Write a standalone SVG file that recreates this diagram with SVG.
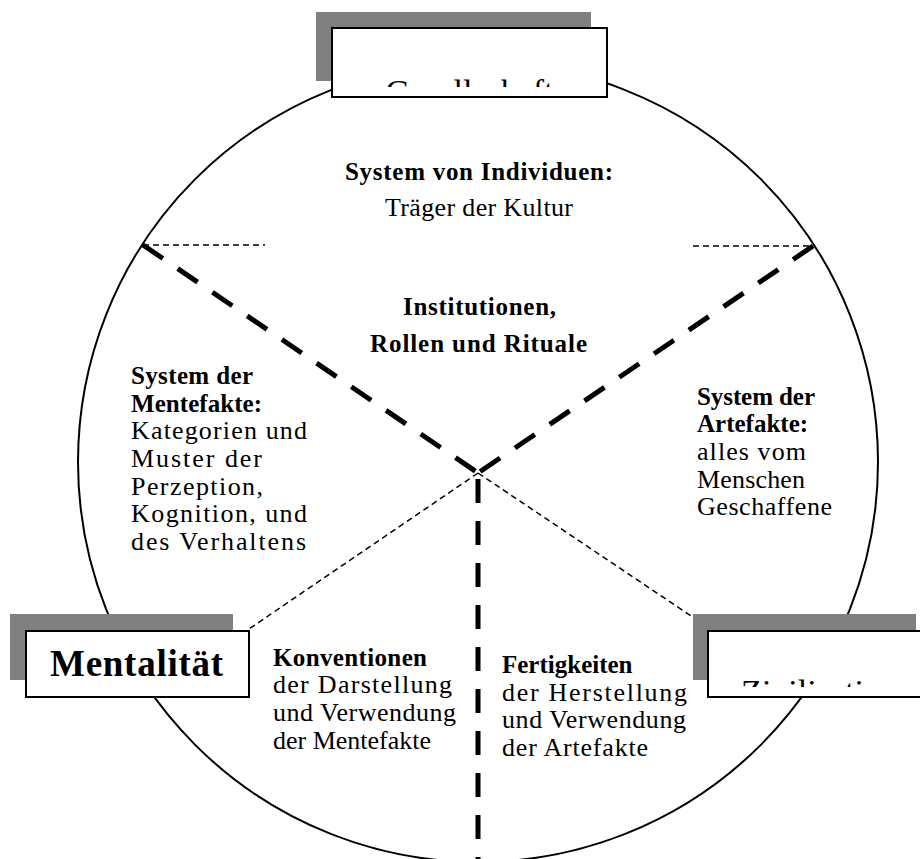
<svg xmlns="http://www.w3.org/2000/svg" width="920" height="859" viewBox="0 0 920 859">
  <style>
    .ring { fill: none; stroke: #000; stroke-width: 2; }
    .thick { stroke: #000; stroke-width: 5; stroke-dasharray: 24 18; fill: none; }
    .thin { stroke: #000; stroke-width: 1.5; stroke-dasharray: 6 4; fill: none; }
    .shadow { fill: #808080; }
    .frame { fill: #fff; stroke: #000; stroke-width: 2; }
    .t { font-family: "Liberation Serif", "Times New Roman", serif; font-size: 26px; fill: #000; }
    .b { font-weight: bold; font-size: 25px; }
    .c { text-anchor: middle; }
    .big { font-family: "Liberation Serif", "Times New Roman", serif; font-size: 34px; fill: #000; text-anchor: middle; }
  </style>
  <defs>
    <clipPath id="clipTop"><rect x="333" y="29" width="273" height="58"/></clipPath>
    <clipPath id="clipRight"><rect x="709" y="632" width="220" height="55"/></clipPath>
  </defs>
  <rect width="920" height="859" fill="#fff"/>

  <!-- outer circle -->
  <circle class="ring" cx="478" cy="462" r="400"/>

  <!-- connectors -->
  <g id="connectors">
    <line class="thin" x1="143" y1="245" x2="265" y2="245"/>
    <line class="thin" x1="693" y1="246" x2="813" y2="246"/>
    <line class="thick" x1="143" y1="245" x2="478" y2="473"/>
    <line class="thick" x1="813" y1="246" x2="478" y2="473"/>
    <line class="thick" x1="478" y1="479" x2="478" y2="862"/>
    <line class="thin" x1="478" y1="473" x2="249" y2="629"/>
    <line class="thin" x1="478" y1="473" x2="712" y2="630"/>
  </g>

  <!-- sector labels -->
  <g id="individuen">
    <text class="t b c" x="479" y="180" textLength="268" lengthAdjust="spacing">System von Individuen:</text>
    <text class="t c" x="479" y="215.5" textLength="188" lengthAdjust="spacing">Träger der Kultur</text>
  </g>
  <g id="institutionen">
    <text class="t b c" x="479.5" y="315" textLength="153" lengthAdjust="spacing">Institutionen,</text>
    <text class="t b c" x="478.5" y="352" textLength="217" lengthAdjust="spacing">Rollen und Rituale</text>
  </g>
  <g id="mentefakte">
    <text class="t b" x="131" y="384" textLength="122" lengthAdjust="spacing">System der</text>
    <text class="t b" x="131" y="411.7" textLength="131" lengthAdjust="spacing">Mentefakte:</text>
    <text class="t" x="131" y="439.4" textLength="176" lengthAdjust="spacing">Kategorien und</text>
    <text class="t" x="131" y="467" textLength="131" lengthAdjust="spacing">Muster der</text>
    <text class="t" x="131" y="494.7" textLength="132" lengthAdjust="spacing">Perzeption,</text>
    <text class="t" x="131" y="522.4" textLength="176" lengthAdjust="spacing">Kognition, und</text>
    <text class="t" x="131" y="550" textLength="175" lengthAdjust="spacing">des Verhaltens</text>
  </g>
  <g id="artefakte">
    <text class="t b" x="697" y="404.6" textLength="118" lengthAdjust="spacing">System der</text>
    <text class="t b" x="697" y="432.3">Artefakte:</text>
    <text class="t" x="697" y="460" textLength="109" lengthAdjust="spacing">alles vom</text>
    <text class="t" x="697" y="487.7" textLength="108" lengthAdjust="spacing">Menschen</text>
    <text class="t" x="697" y="515.4" textLength="135" lengthAdjust="spacing">Geschaffene</text>
  </g>
  <g id="konventionen">
    <text class="t b" x="273" y="665.7" textLength="154" lengthAdjust="spacing">Konventionen</text>
    <text class="t" x="273" y="693.4" textLength="179" lengthAdjust="spacing">der Darstellung</text>
    <text class="t" x="273" y="721" textLength="183" lengthAdjust="spacing">und Verwendung</text>
    <text class="t" x="273" y="748.7" textLength="158" lengthAdjust="spacing">der Mentefakte</text>
  </g>
  <g id="fertigkeiten">
    <text class="t b" x="502" y="673">Fertigkeiten</text>
    <text class="t" x="502" y="700.7" textLength="185" lengthAdjust="spacing">der Herstellung</text>
    <text class="t" x="502" y="728.4" textLength="184" lengthAdjust="spacing">und Verwendung</text>
    <text class="t" x="502" y="756" textLength="146" lengthAdjust="spacing">der Artefakte</text>
  </g>

  <!-- corner boxes with offset shadows -->
  <g id="gesellschaft">
    <rect class="shadow" x="316" y="12" width="275" height="69"/>
    <rect class="frame" x="332" y="28" width="275" height="69"/>
    <text class="big" x="469.5" y="103" clip-path="url(#clipTop)">Gesellschaft</text>
  </g>
  <g id="mentalitaet">
    <rect class="shadow" x="10" y="614" width="223" height="66"/>
    <rect class="frame" x="26" y="631" width="223" height="66"/>
    <text class="big b" x="136.5" y="676" style="font-size:37px" textLength="173" lengthAdjust="spacing">Mentalität</text>
  </g>
  <g id="zivilisation">
    <rect class="shadow" x="693" y="614" width="223" height="66"/>
    <rect class="frame" x="708" y="631" width="223" height="66"/>
    <text class="big" x="819.5" y="703" clip-path="url(#clipRight)">Zivilisation</text>
  </g>
</svg>
